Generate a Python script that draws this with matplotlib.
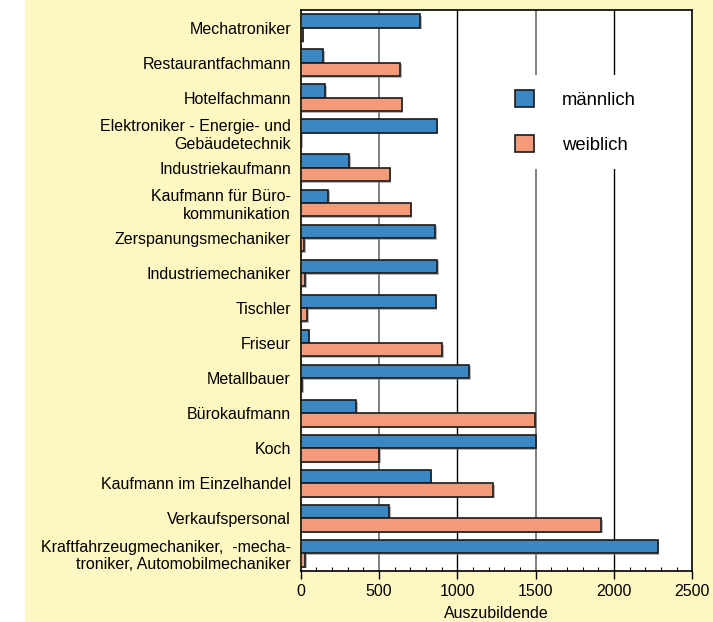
import numpy as np
import matplotlib
matplotlib.use("Agg")
import matplotlib.pyplot as plt
import matplotlib.patheffects as pe
from matplotlib.ticker import MultipleLocator

plt.rcParams['font.family'] = ['Liberation Sans', 'DejaVu Sans']

categories = [
    "Mechatroniker",
    "Restaurantfachmann",
    "Hotelfachmann",
    "Elektroniker - Energie- und\nGebäudetechnik",
    "Industriekaufmann",
    "Kaufmann für Büro-\nkommunikation",
    "Zerspanungsmechaniker",
    "Industriemechaniker",
    "Tischler",
    "Friseur",
    "Metallbauer",
    "Bürokaufmann",
    "Koch",
    "Kaufmann im Einzelhandel",
    "Verkaufspersonal",
    "Kraftfahrzeugmechaniker,  -mecha-\ntroniker, Automobilmechaniker",
]
maennlich = [761, 145, 157, 867, 308, 176, 857, 872, 861, 51, 1074, 356, 1500, 830, 566, 2279]
weiblich = [13, 634, 645, 3, 568, 702, 23, 29, 42, 904, 8, 1496, 500, 1227, 1919, 27]
xticks = [0, 500, 1000, 1500, 2000, 2500]
xlabel = "Auszubildende"
series_labels = ["männlich", "weiblich"]

blue = "#3A87C3"
salmon = "#F29A7A"
yellow = "#FFF7C1"

fig = plt.figure(figsize=(7.13, 6.22), dpi=100)
fig.patch.set_facecolor("white")
fig.patches.append(plt.Rectangle((25/713, 0), 1 - 25/713, 1, transform=fig.transFigure,
                                 facecolor=yellow, edgecolor="none", zorder=-10))

ax = fig.add_axes([300.7/713, 1 - 571/622, 391.6/713, 561/622])
ax.set_facecolor("white")

y = np.arange(len(categories))
h = 0.38
shadow = [pe.SimplePatchShadow(offset=(1.2, -1.2), shadow_rgbFace="#888888", alpha=0.6), pe.Normal()]
b1 = ax.barh(y - h/2, maennlich, height=h, color=blue, edgecolor="#1a1a1a", linewidth=1.2,
             label=series_labels[0], zorder=3)
b2 = ax.barh(y + h/2, weiblich, height=h, color=salmon, edgecolor="#1a1a1a", linewidth=1.2,
             label=series_labels[1], zorder=3)
for bar in list(b1) + list(b2):
    bar.set_path_effects(shadow)

# gridlines
for xv in xticks[1:-1]:
    col = "#808080" if xv % 1000 else "black"
    lw = 1.4 if xv % 1000 else 1.0
    ax.axvline(xv, color=col, linewidth=lw, zorder=1)

ax.set_xlim(0, 2500)
ax.set_ylim(len(categories) - 0.5, -0.5)
ax.set_xticks(xticks)
ax.xaxis.set_minor_locator(MultipleLocator(100))
ax.set_yticks(y)
ax.set_yticklabels(categories, fontsize=11.5, ha="right", multialignment="right")
ax.tick_params(axis="y", length=0, pad=7)
ax.tick_params(axis="x", which="major", length=6, direction="out", labelsize=11.5, pad=3.5, width=1)
ax.tick_params(axis="x", which="minor", length=3, direction="in", width=0.8)
ax.set_xlabel(xlabel, fontsize=11.5, labelpad=5)
for s in ax.spines.values():
    s.set_color("black")
    s.set_linewidth(1.2)

leg = ax.legend(loc="upper left", bbox_to_anchor=(0.509, 0.884), fontsize=13.3,
                frameon=True, fancybox=False, framealpha=1, edgecolor="none",
                facecolor="white", handlelength=1.03, handleheight=1.03,
                handletextpad=1.5, labelspacing=1.45, borderpad=0.8, borderaxespad=0)
leg.set_zorder(5)
for p in leg.get_patches():
    p.set_path_effects([])

fig.savefig("out.png", dpi=100)
